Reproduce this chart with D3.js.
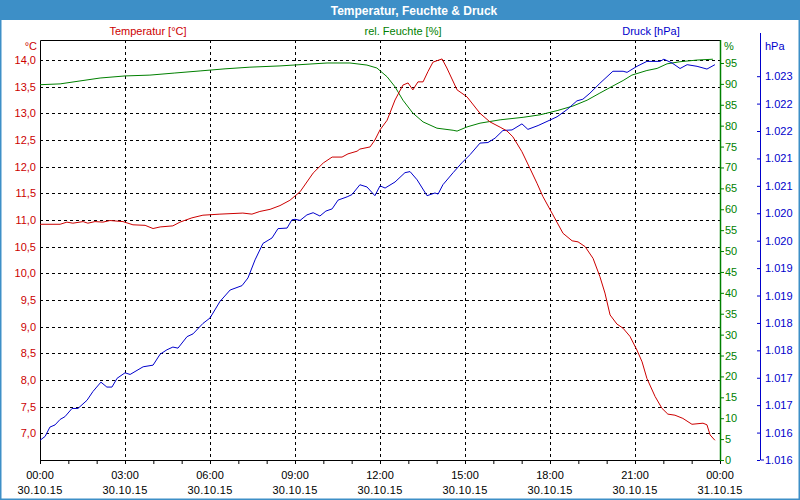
<!DOCTYPE html>
<html><head><meta charset="utf-8">
<script src="https://cdn.jsdelivr.net/npm/d3@7"></script>
<style>
body{margin:0;background:#fff}
svg{display:block;font-family:"Liberation Sans",Arial,sans-serif}
</style>
</head><body>
<svg id="chart" width="800" height="500"></svg>
<script>
// ---------- data (hours since 30.10.15 00:00) ----------
const tempHours  = [0,0.71,0.95,1.16,1.52,1.69,1.94,2.22,2.47,2.93,3.28,3.71,3.99,4.24,4.69,4.94,5.36,5.75,6.35,7.16,7.48,7.76,8.12,8.47,8.82,9.18,9.64,10.0,10.31,10.66,10.87,11.19,11.29,11.65,11.82,12.0,12.25,12.53,12.81,12.99,13.16,13.34,13.52,13.69,13.87,14.19,14.36,14.72,15.07,15.53,15.88,16.24,16.48,16.69,17.01,17.29,17.54,17.75,18.07,18.46,18.78,18.99,19.24,19.52,19.76,19.94,20.12,20.36,20.58,20.82,21.07,21.25,21.42,21.71,21.95,22.16,22.41,22.69,23.01,23.40,23.54,23.65,23.82];
const tempValues = [10.92,10.92,10.96,10.94,10.97,10.94,10.97,10.96,10.99,10.97,10.91,10.90,10.84,10.87,10.89,10.96,11.04,11.09,11.11,11.13,11.11,11.16,11.20,11.27,11.37,11.53,11.88,12.07,12.18,12.18,12.24,12.29,12.33,12.37,12.50,12.69,12.87,13.25,13.53,13.57,13.44,13.59,13.59,13.78,13.96,14.02,13.85,13.44,13.31,13.00,12.84,12.74,12.67,12.56,12.28,11.97,11.69,11.44,11.13,10.75,10.61,10.59,10.50,10.28,9.94,9.63,9.22,9.05,8.97,8.82,8.56,8.34,8.03,7.69,7.47,7.36,7.34,7.28,7.17,7.19,7.16,6.97,6.87];

const humHours  = [0,0.71,1.41,2.12,3.0,3.88,4.76,5.65,6.53,7.41,8.47,10.13,10.94,11.54,11.89,12.25,12.53,12.81,13.16,13.52,14.01,14.58,14.72,15.07,15.53,16.24,17.05,17.65,18.25,18.81,19.31,19.76,20.22,20.58,20.89,21.42,21.78,22.13,22.59,23.19,23.75];
const humValues = [89.8,90.0,90.7,91.4,91.9,92.1,92.6,93.1,93.6,94.0,94.3,95.0,95.0,94.5,93.8,91.7,89.3,86.1,83.0,80.9,79.4,78.9,78.7,79.7,80.6,81.4,82.0,82.6,83.6,84.7,86.1,87.8,89.5,90.8,92.1,93.2,93.7,94.8,95.3,95.7,95.9];

const presHours  = [0,0.18,0.35,0.53,0.71,0.88,1.13,1.34,1.66,1.87,2.15,2.36,2.54,2.72,3.0,3.18,3.64,3.99,4.24,4.48,4.69,4.87,5.19,5.40,5.75,6.0,6.35,6.71,7.13,7.34,7.59,7.87,8.19,8.40,8.72,8.89,9.0,9.18,9.42,9.64,9.88,10.09,10.31,10.52,10.84,11.01,11.29,11.54,11.82,12.0,12.18,12.53,12.88,13.06,13.31,13.66,13.94,14.05,14.22,14.58,14.89,15.18,15.53,15.81,16.06,16.34,16.66,17.01,17.22,17.58,18.0,18.25,18.60,18.95,19.16,19.41,19.76,20.22,20.58,20.72,21.07,21.42,21.88,22.02,22.31,22.59,22.84,23.19,23.54,23.82];
const presValues = [1015.86,1015.93,1016.10,1016.14,1016.24,1016.29,1016.44,1016.44,1016.59,1016.75,1016.92,1016.83,1016.83,1016.99,1017.09,1017.06,1017.20,1017.23,1017.43,1017.51,1017.56,1017.54,1017.75,1017.80,1017.99,1018.09,1018.39,1018.60,1018.68,1018.82,1019.15,1019.45,1019.55,1019.72,1019.73,1019.88,1019.89,1019.87,1019.97,1020.01,1019.95,1020.04,1020.08,1020.24,1020.30,1020.34,1020.52,1020.48,1020.32,1020.50,1020.46,1020.57,1020.74,1020.76,1020.61,1020.32,1020.37,1020.35,1020.52,1020.74,1020.92,1021.07,1021.28,1021.29,1021.37,1021.51,1021.52,1021.63,1021.53,1021.60,1021.70,1021.76,1021.89,1022.05,1022.08,1022.19,1022.37,1022.59,1022.59,1022.57,1022.68,1022.77,1022.77,1022.81,1022.74,1022.64,1022.71,1022.68,1022.63,1022.71];

const tempTicks = [7,7.5,8,8.5,9,9.5,10,10.5,11,11.5,12,12.5,13,13.5,14];
const humTicks  = [0,5,10,15,20,25,30,35,40,45,50,55,60,65,70,75,80,85,90,95];
const presTicks = [1015.5,1016,1016.5,1017,1017.5,1018,1018.5,1019,1019.5,1020,1020.5,1021,1021.5,1022,1022.5];
const hourTicks = [0,1,2,3,4,5,6,7,8,9,10,11,12,13,14,15,16,17,18,19,20,21,22,23,24];
const timeLabelHours = [0,3,6,9,12,15,18,21,24];
const timeLabels = ["00:00","03:00","06:00","09:00","12:00","15:00","18:00","21:00","00:00"];
const dateLabels = ["30.10.15","30.10.15","30.10.15","30.10.15","30.10.15","30.10.15","30.10.15","30.10.15","31.10.15"];

const title = "Temperatur, Feuchte & Druck";
const seriesNames = ["Temperatur [°C]","rel. Feuchte [%]","Druck [hPa]"];

// ---------- layout ----------
const L=40,R=720,T=40,B=460;
const cRed="#cc0000", cGreen="#008000", cBlue="#0000cc", cBar="#3d8fc7";
const svg=d3.select("#chart");

svg.append("rect").attr("x",0).attr("y",0).attr("width",800).attr("height",500).attr("fill","#fff")
  .attr("stroke",cBar).attr("stroke-width",3);
svg.append("rect").attr("x",0).attr("y",0).attr("width",800).attr("height",20).attr("fill",cBar);
svg.append("text").attr("x",414).attr("y",14.5).attr("text-anchor","middle").attr("fill","#fff")
  .attr("font-weight","bold").attr("font-size",12).text(title);

const x=d3.scaleLinear().domain([0,24]).range([L,R]);
const yT=d3.scaleLinear().domain([6.5,14.375]).range([B,T]);
const yH=d3.scaleLinear().domain([0,100.5]).range([B,T]);
const yP=d3.scaleLinear().domain([1015.5,1023.16]).range([B,T]);

// grid
const grid=svg.append("g");
grid.selectAll("line.h").data(tempTicks).join("line")
  .attr("x1",L).attr("x2",R).attr("y1",d=>Math.round(yT(d))+0.5).attr("y2",d=>Math.round(yT(d))+0.5)
  .attr("stroke","#000").attr("stroke-dasharray","3,3");
grid.selectAll("line.v").data(timeLabelHours.slice(1,-1)).join("line")
  .attr("y1",T).attr("y2",B).attr("x1",d=>Math.round(x(d))+0.5).attr("x2",d=>Math.round(x(d))+0.5)
  .attr("stroke","#000").attr("stroke-dasharray","3,3");

// frame
svg.append("path").attr("d",`M${L+0.5},${B+0.5}V${T+0.5}H${R+0.5}`).attr("fill","none").attr("stroke","#000");

// lines
const lineOf=(xs,ys,yScale)=>d3.line().x((d,i)=>x(xs[i])).y((d,i)=>yScale(ys[i]))(ys);
svg.append("path").attr("d",lineOf(humHours,humValues,yH)).attr("fill","none").attr("stroke",cGreen).attr("stroke-width",1);
svg.append("path").attr("d",lineOf(presHours,presValues,yP)).attr("fill","none").attr("stroke",cBlue).attr("stroke-width",1);
svg.append("path").attr("d",lineOf(tempHours,tempValues,yT)).attr("fill","none").attr("stroke",cRed).attr("stroke-width",1);

// left axis (temperature)
const commaFmt=d=>d3.format(".1f")(d).replace(".",",");
const gL=svg.append("g").attr("transform",`translate(${L},0)`)
  .call(d3.axisLeft(yT).tickValues(tempTicks).tickSize(0).tickPadding(4).tickFormat(commaFmt));
gL.select(".domain").remove();
gL.selectAll("text").attr("fill",cRed).attr("font-size",11).attr("font-family","Liberation Sans, Arial, sans-serif");
svg.append("text").attr("x",37).attr("y",50).attr("text-anchor","end").attr("fill",cRed).attr("font-size",11).text("°C");

// bottom axis
const gB=svg.append("g").attr("transform",`translate(0,${B})`)
  .call(d3.axisBottom(x).tickValues(hourTicks).tickSize(4).tickFormat(""));
gB.select(".domain").attr("stroke","#000").attr("d",`M${L},0.5H${R+4}`);
gB.selectAll("line").attr("stroke","#000");
const lab=svg.append("g").attr("font-size",11).attr("fill","#000").attr("text-anchor","middle");
lab.selectAll("text.t").data(timeLabelHours).join("text").attr("x",d=>x(d)).attr("y",479).text((d,i)=>timeLabels[i]);
lab.selectAll("text.d").data(timeLabelHours).join("text").attr("x",d=>x(d)).attr("y",494).attr("letter-spacing",0.3).text((d,i)=>dateLabels[i]);

// right axis (humidity)
const gH=svg.append("g").attr("transform",`translate(${R},0)`)
  .call(d3.axisRight(yH).tickValues(humTicks).tickSize(4).tickPadding(1).tickFormat(d3.format("d")));
gH.select(".domain").attr("stroke",cGreen).attr("d",`M0.5,${T}V${B}`).attr("stroke-width",1.5);
gH.selectAll("line").attr("stroke",cGreen);
gH.selectAll("text").attr("fill",cGreen).attr("font-size",11).attr("font-family","Liberation Sans, Arial, sans-serif");
svg.append("text").attr("x",724).attr("y",50).attr("fill",cGreen).attr("font-size",11).text("%");

// pressure axis
const deLocale=d3.formatLocale({decimal:",",thousands:".",grouping:[3],currency:["","€"]});
const pFmt=deLocale.format(",.0f");
const gP=svg.append("g").attr("transform",`translate(760,0)`)
  .call(d3.axisRight(yP).tickValues(presTicks).tickSize(-3).tickPadding(5).tickFormat(pFmt));
gP.select(".domain").attr("stroke",cBlue).attr("d",`M0.5,33V${B}H4`);
gP.selectAll("line").attr("stroke",cBlue);
gP.selectAll("text").attr("fill",cBlue).attr("font-size",11).attr("font-family","Liberation Sans, Arial, sans-serif");
svg.append("text").attr("x",765).attr("y",50).attr("fill",cBlue).attr("font-size",11).text("hPa");

// series names
const names=svg.append("g").attr("font-size",11).attr("text-anchor","middle");
const namePos=[148,403,651], nameCol=[cRed,cGreen,cBlue];
names.selectAll("text").data(seriesNames).join("text").attr("x",(d,i)=>namePos[i]).attr("y",35)
  .attr("fill",(d,i)=>nameCol[i]).text(d=>d);
</script>
</body></html>
